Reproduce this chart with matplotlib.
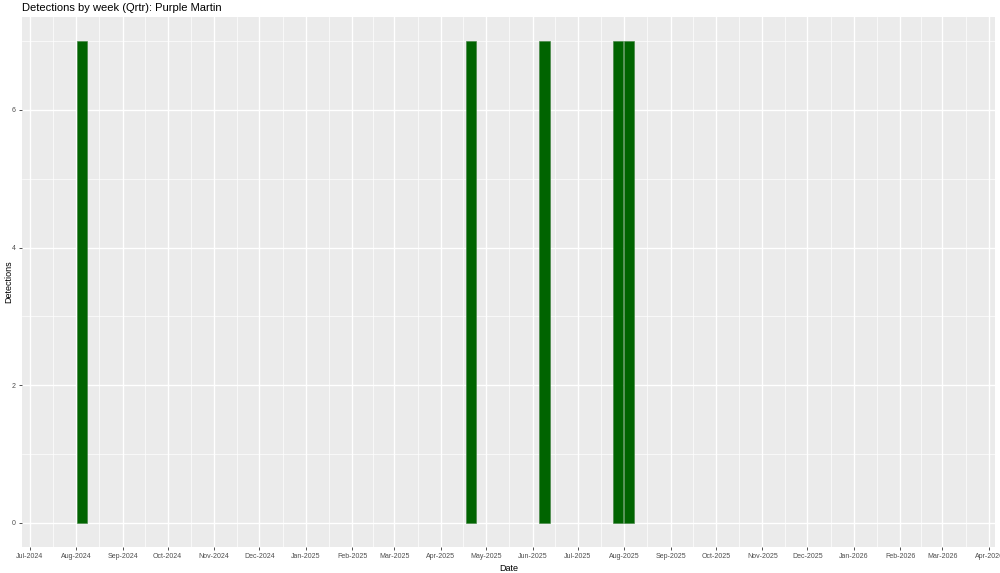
import matplotlib
matplotlib.use("Agg")
import matplotlib.pyplot as plt
import matplotlib.dates as mdates
import pandas as pd

# weekly detections (week start dates)
weeks = ["2024-08-05", "2025-04-21", "2025-06-09", "2025-07-28", "2025-08-04"]
detections = [7, 7, 7, 7, 7]

x_start = pd.Timestamp("2024-06-26")
x_end = pd.Timestamp("2026-04-05")

plt.rcParams['font.family'] = ['Liberation Sans', 'DejaVu Sans']

fig = plt.figure(figsize=(10, 5.73), dpi=100)
ax = fig.add_axes([0.022, 0.0454, 0.973, 0.925])
ax.set_facecolor("#EBEBEB")

dates = pd.to_datetime(weeks)
ax.bar(dates, detections, width=6.8, color="#006400", edgecolor="#3a7f3a",
       linewidth=0.4, zorder=3)

ax.xaxis.set_major_locator(mdates.MonthLocator())
ax.xaxis.set_major_formatter(mdates.DateFormatter("%b-%Y"))
months = pd.date_range("2024-06-01", "2026-05-01", freq="MS")
mids = months[:-1] + (months[1:] - months[:-1]) / 2
mids = mids[(mids > x_start) & (mids < x_end)]
ax.set_xticks(mids, minor=True)
ax.set_yticks([0, 2, 4, 6])
ax.set_yticks([1, 3, 5, 7], minor=True)

# limits after ticks so set_xticks doesn't widen the view
ax.set_xlim(x_start, x_end)
ax.set_ylim(-0.35, 7.35)

ax.grid(which="major", color="white", linewidth=1.0, zorder=0)
ax.grid(which="minor", color="white", linewidth=0.5, zorder=0)
ax.set_axisbelow(True)
for s in ax.spines.values():
    s.set_visible(False)

ax.tick_params(axis="both", which="major", labelsize=5, color="#333333",
               labelcolor="#4D4D4D", length=2.5, width=0.6, pad=2)
ax.tick_params(axis="both", which="minor", length=0)

ax.set_xlabel("Date", fontsize=6.5)
ax.set_ylabel("Detections", fontsize=6.5)
ax.yaxis.set_label_coords(-0.0085, 0.5)
ax.xaxis.set_label_coords(0.5, -0.032)
fig.text(0.022, 0.986, "Detections by week (Qrtr): Purple Martin",
         fontsize=8, ha="left", va="center")

fig.savefig("out.png", dpi=100)
